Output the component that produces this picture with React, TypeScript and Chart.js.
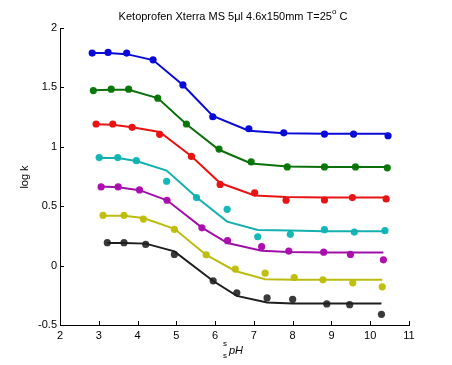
import React, { useEffect, useRef } from "react";
import { Chart, registerables } from "chart.js";

Chart.register(...registerables);

// ---- Data ----
const titleMain = "Ketoprofen Xterra MS 5μl 4.6x150mm T=25";
const titleSup = "o";
const titleEnd = " C";
const yAxisTitle = "log k";
const xAxisTitle = "pH";
const xAxisSup = "s";
const xAxisSub = "s";

const xMin = 2;
const xMax = 11;
const yMin = -0.5;
const yMax = 2;
const xStep = 1;
const yStep = 0.5;

const blueX = [2.83, 3.24, 3.72, 4.4, 5.17, 5.94, 6.87, 7.77, 8.82, 9.57, 10.46];
const blueY = [1.789, 1.794, 1.789, 1.732, 1.521, 1.253, 1.152, 1.118, 1.107, 1.107, 1.093];
const blueFit = [1.79, 1.79, 1.78, 1.73, 1.52, 1.26, 1.135, 1.115, 1.11, 1.11, 1.11];

const greenX = [2.86, 3.32, 3.77, 4.52, 5.26, 6.1, 6.93, 7.86, 8.82, 9.62, 10.44];
const greenY = [1.473, 1.485, 1.485, 1.409, 1.192, 0.981, 0.873, 0.831, 0.831, 0.831, 0.823];
const greenFit = [1.475, 1.48, 1.48, 1.41, 1.19, 0.975, 0.86, 0.835, 0.83, 0.83, 0.83];

const redX = [2.93, 3.36, 3.86, 4.57, 5.39, 6.13, 7.02, 7.83, 8.82, 9.54, 10.41];
const redY = [1.192, 1.192, 1.164, 1.105, 0.919, 0.683, 0.613, 0.55, 0.552, 0.573, 0.561];
const redFit = [1.19, 1.185, 1.165, 1.125, 0.92, 0.695, 0.59, 0.578, 0.573, 0.573, 0.573];

const cyanX = [3.01, 3.49, 3.97, 4.75, 5.52, 6.31, 7.1, 7.94, 8.82, 9.59, 10.38];
const cyanY = [0.909, 0.909, 0.883, 0.71, 0.573, 0.474, 0.243, 0.263, 0.302, 0.282, 0.294];
const cyanFit = [0.905, 0.905, 0.88, 0.8, 0.575, 0.37, 0.3, 0.295, 0.29, 0.29, 0.29];

const magentaX = [3.06, 3.5, 4.05, 4.76, 5.66, 6.32, 7.2, 7.9, 8.8, 9.49, 10.34];
const magentaY = [0.662, 0.662, 0.637, 0.55, 0.318, 0.21, 0.159, 0.122, 0.113, 0.094, 0.049];
const magentaFit = [0.665, 0.66, 0.635, 0.55, 0.32, 0.19, 0.125, 0.115, 0.11, 0.11, 0.11];

const yellowX = [3.11, 3.65, 4.15, 4.95, 5.77, 6.52, 7.29, 8.04, 8.78, 9.55, 10.31];
const yellowY = [0.423, 0.423, 0.392, 0.305, 0.091, -0.029, -0.064, -0.1, -0.12, -0.145, -0.179];
const yellowFit = [0.42, 0.42, 0.4, 0.31, 0.09, -0.045, -0.115, -0.12, -0.12, -0.12, -0.12];

const blackX = [3.22, 3.65, 4.21, 4.95, 5.95, 6.56, 7.34, 8.0, 8.88, 9.47, 10.29];
const blackY = [0.193, 0.193, 0.178, 0.094, -0.128, -0.229, -0.272, -0.284, -0.323, -0.329, -0.41];
const blackFit = [0.19, 0.19, 0.185, 0.12, -0.13, -0.255, -0.31, -0.32, -0.32, -0.32, -0.32];

const seriesList = [
  { name: "blue", xs: blueX, ys: blueY, fit: blueFit, dot: "#0a0ad8", line: "#0a0ad8" },
  { name: "green", xs: greenX, ys: greenY, fit: greenFit, dot: "#0a7a0a", line: "#0a700a" },
  { name: "red", xs: redX, ys: redY, fit: redFit, dot: "#e81414", line: "#e81414" },
  { name: "cyan", xs: cyanX, ys: cyanY, fit: cyanFit, dot: "#14b8b8", line: "#14b0b0" },
  { name: "magenta", xs: magentaX, ys: magentaY, fit: magentaFit, dot: "#b010b0", line: "#a010a8" },
  { name: "yellow", xs: yellowX, ys: yellowY, fit: yellowFit, dot: "#c0c010", line: "#bcbc10" },
  { name: "black", xs: blackX, ys: blackY, fit: blackFit, dot: "#3a3a3a", line: "#1e1e1e" },
];

const FONT = "'Liberation Sans', Arial, Helvetica, sans-serif";

const decorPlugin = {
  id: "decor",
  afterDraw(chart: any) {
    const ctx = chart.ctx as CanvasRenderingContext2D;
    const xs = chart.scales.x;
    const ys = chart.scales.y;
    const area = chart.chartArea;
    ctx.save();
    // inward tick marks
    ctx.strokeStyle = "#000";
    ctx.lineWidth = 1;
    const tl = 4;
    ctx.beginPath();
    xs.ticks.forEach((t: any) => {
      const px = Math.round(xs.getPixelForValue(t.value)) + 0.5;
      ctx.moveTo(px, area.bottom);
      ctx.lineTo(px, area.bottom - tl);
    });
    ys.ticks.forEach((t: any) => {
      const py = Math.round(ys.getPixelForValue(t.value)) + 0.5;
      ctx.moveTo(area.left, py);
      ctx.lineTo(area.left + tl, py);
    });
    ctx.stroke();

    // title
    ctx.fillStyle = "#000";
    ctx.font = `11px ${FONT}`;
    ctx.textBaseline = "middle";
    const w1 = ctx.measureText(titleMain).width;
    ctx.font = `8px ${FONT}`;
    const w2 = ctx.measureText(titleSup).width;
    ctx.font = `11px ${FONT}`;
    const w3 = ctx.measureText(titleEnd).width;
    const total = w1 + w2 + w3;
    let tx = 233 - total / 2;
    const ty = 17;
    ctx.textAlign = "left";
    ctx.fillText(titleMain, tx, ty);
    tx += w1;
    ctx.font = `8px ${FONT}`;
    ctx.fillText(titleSup, tx, ty - 5);
    tx += w2;
    ctx.font = `11px ${FONT}`;
    ctx.fillText(titleEnd, tx, ty);

    // y axis title
    ctx.save();
    ctx.translate(25, 177);
    ctx.rotate(-Math.PI / 2);
    ctx.textAlign = "center";
    ctx.font = `11px ${FONT}`;
    ctx.fillText(yAxisTitle, 0, 0);
    ctx.restore();

    // x axis title
    ctx.textAlign = "left";
    ctx.font = `8px ${FONT}`;
    ctx.fillText(xAxisSup, 223, 344);
    ctx.fillText(xAxisSub, 223, 356);
    ctx.font = `italic 11px ${FONT}`;
    ctx.fillText(xAxisTitle, 229, 351);
    ctx.restore();
  },
};

export default function App() {
  const ref = useRef<HTMLCanvasElement | null>(null);

  useEffect(() => {
    if (!ref.current) return;
    const datasets: any[] = [];
    seriesList.forEach((s) => {
      datasets.push({
        label: s.name + " fit",
        data: s.xs.map((x, i) => ({ x, y: s.fit[i] })),
        showLine: true,
        borderColor: s.line,
        borderWidth: 2,
        pointRadius: 0,
        fill: false,
        tension: 0,
      });
      datasets.push({
        label: s.name,
        data: s.xs.map((x, i) => ({ x, y: s.ys[i] })),
        showLine: false,
        backgroundColor: s.dot,
        borderColor: s.dot,
        borderWidth: 0,
        pointRadius: 3.6,
        pointStyle: "circle",
      });
    });

    const chart = new Chart(ref.current, {
      type: "scatter",
      data: { datasets },
      options: {
        animation: false,
        responsive: false,
        devicePixelRatio: 1,
        layout: { padding: { left: 0, top: 28, right: 43, bottom: 0 } },
        plugins: {
          legend: { display: false },
          tooltip: { enabled: false },
          title: { display: false },
        },
        scales: {
          x: {
            type: "linear",
            min: xMin,
            max: xMax,
            afterFit: (scale: any) => {
              scale.height = 40;
            },
            ticks: {
              stepSize: xStep,
              color: "#000",
              padding: 4,
              font: { family: FONT, size: 11 },
              maxRotation: 0,
              autoSkip: false,
            },
            grid: { display: false, drawTicks: false },
            border: { display: true, color: "#000", width: 1 },
          },
          y: {
            type: "linear",
            min: yMin,
            max: yMax,
            afterFit: (scale: any) => {
              scale.width = 60;
            },
            ticks: {
              stepSize: yStep,
              color: "#000",
              padding: 3,
              font: { family: FONT, size: 11 },
              callback: (v: any) => String(Math.round(Number(v) * 10) / 10),
            },
            grid: { display: false, drawTicks: false },
            border: { display: true, color: "#000", width: 1 },
          },
        },
      } as any,
      plugins: [decorPlugin],
    });
    return () => chart.destroy();
  }, []);

  return (
    <div style={{ position: "absolute", left: 0, top: 0, width: 452, height: 365, background: "#fff" }}>
      <canvas ref={ref} width={452} height={365} style={{ width: 452, height: 365, display: "block" }} />
    </div>
  );
}
